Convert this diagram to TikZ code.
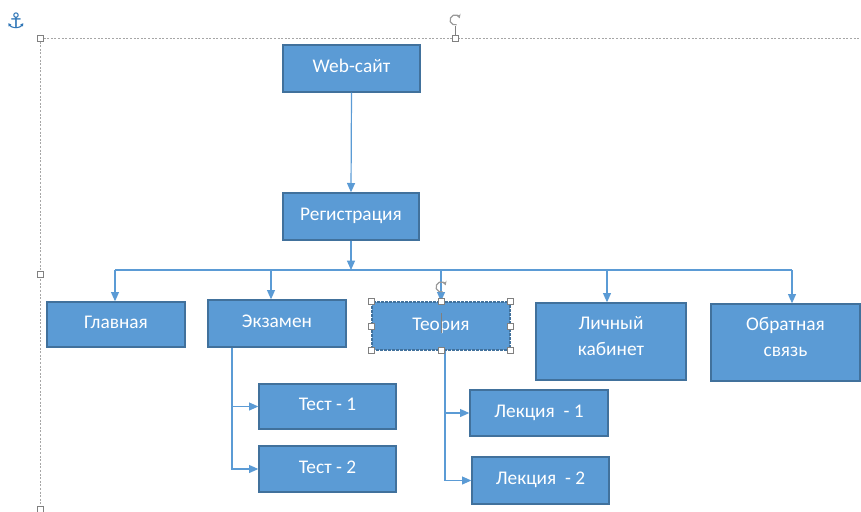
\documentclass[tikz,border=0pt]{standalone}
\usepackage{fontspec}
\setmainfont{Carlito}
\newfontfamily\djv{DejaVu Sans}
\usetikzlibrary{arrows.meta}
\definecolor{boxfill}{HTML}{5B9BD5}
\definecolor{boxdraw}{HTML}{41719C}
\definecolor{conn}{HTML}{5B9BD5}
\definecolor{anch}{HTML}{2E75B6}
\definecolor{frm}{HTML}{A6A6A6}
\tikzset{
  box/.style={draw=boxdraw, fill=boxfill, line width=1pt, text=white, align=center,
    font=\fontsize{14.5}{19.5}\selectfont, inner sep=0pt},
  one/.style={text height=10pt, text depth=4pt},
  two/.style={text depth=8pt},
  bsz/.style 2 args={minimum width=#1*0.75pt, minimum height=#2*0.75pt},
  conline/.style={draw=conn, line width=0.9pt},
  arr/.style={conline, -{Triangle[length=7pt,width=6pt]}},
  frame/.style={draw=frm, line width=0.6pt, dash pattern=on 1.5pt off 1.2pt},
  handle/.style={draw=gray, fill=white, line width=0.5pt, minimum size=4.5pt, inner sep=0pt, rectangle},
  rot/.style={draw=gray!80, line width=0.9pt, -{Stealth[length=3pt,width=3.5pt]}},
}
\begin{document}
\begin{tikzpicture}[x=0.75pt,y=-0.75pt]
\useasboundingbox (0,0) rectangle (861,511);
% frame of the drawing canvas
\draw[frame] (40,38) -- (861,38);
\draw[frame] (40,38) -- (40,511);
\draw[draw=gray, line width=0.5pt] (455,38) -- (455,26);
\node[handle] (h1) at (40,38) {};
\node[handle] (h2) at (455,38) {};
\node[handle] (h3) at (40,274) {};
\node[handle] (h4) at (40,509) {};
\draw[rot] (455,20) ++(70:5) arc (70:340:5);
\node[text=anch, font=\djv\fontsize{16}{16}\selectfont, inner sep=0pt] (anchor) at (16,21) {⚓};

% boxes
\node[box, one, bsz={137}{47}] (web) at (351.5,68.5) {Web-сайт};
\node[box, one, bsz={136}{47}] (reg) at (351,216.5) {Регистрация};
\node[box, one, bsz={138}{45}] (glav) at (116,324.5) {Главная};
\node[box, one, bsz={138}{47}] (exam) at (277,323.5) {Экзамен};
\node[box, one, bsz={138}{48}, dash pattern=on 2pt off 1pt] (teor) at (441,326) {Теория};
\node[box, two, bsz={150}{77}] (lk) at (611,341.5) {Личный\\кабинет};
\node[box, two, bsz={149}{77}] (fb) at (785.5,342.5) {Обратная\\связь};
\node[box, one, bsz={137}{45}] (t1) at (327.5,406.5) {Тест - 1};
\node[box, one, bsz={137}{46}] (t2) at (327.5,469) {Тест - 2};
\node[box, one, bsz={138}{46}] (l1) at (539,413) {Лекция~ - 1};
\node[box, one, bsz={137}{47}] (l2) at (540.5,480.5) {Лекция~ - 2};

% connectors
\coordinate (bus) at (351,270);
\coordinate (busL) at (115,270);
\coordinate (busR) at (792,270);
\coordinate (dexam) at (271,270);
\coordinate (dteor) at (441,270);
\coordinate (dlk) at (607,270);
\coordinate (ex) at (232,0);
\coordinate (tx) at (445,0);

\draw[arr] (web.south) -- (reg.north);
\draw[arr] (reg.south) -- (bus);
\draw[conline] (busL) -- (busR);
\draw[arr] (busL) -- (busL |- glav.north);
\draw[arr] (dexam) -- (dexam |- exam.north);
\draw[arr] (dteor) -- (dteor |- teor.north);
\draw[arr] (dlk) -- (dlk |- lk.north);
\draw[arr] (busR) -- (busR |- fb.north);

\draw[arr] (ex |- exam.south) |- (t2.west);
\draw[arr] (ex |- t1.west) -- (t1.west);
\draw[arr] (tx |- teor.south) |- (l2.west);
\draw[arr] (tx |- l1.west) -- (l1.west);

% selection marks on Теория
\foreach \a in {north west,north,north east,east,south east,south,south west,west}
  \node[handle] at (teor.\a) {};
\draw[rot] (441,287) ++(70:5) arc (70:340:5);
\draw[gray, line width=0.6pt] (441,313) -- (441,333);
\end{tikzpicture}
\end{document}
